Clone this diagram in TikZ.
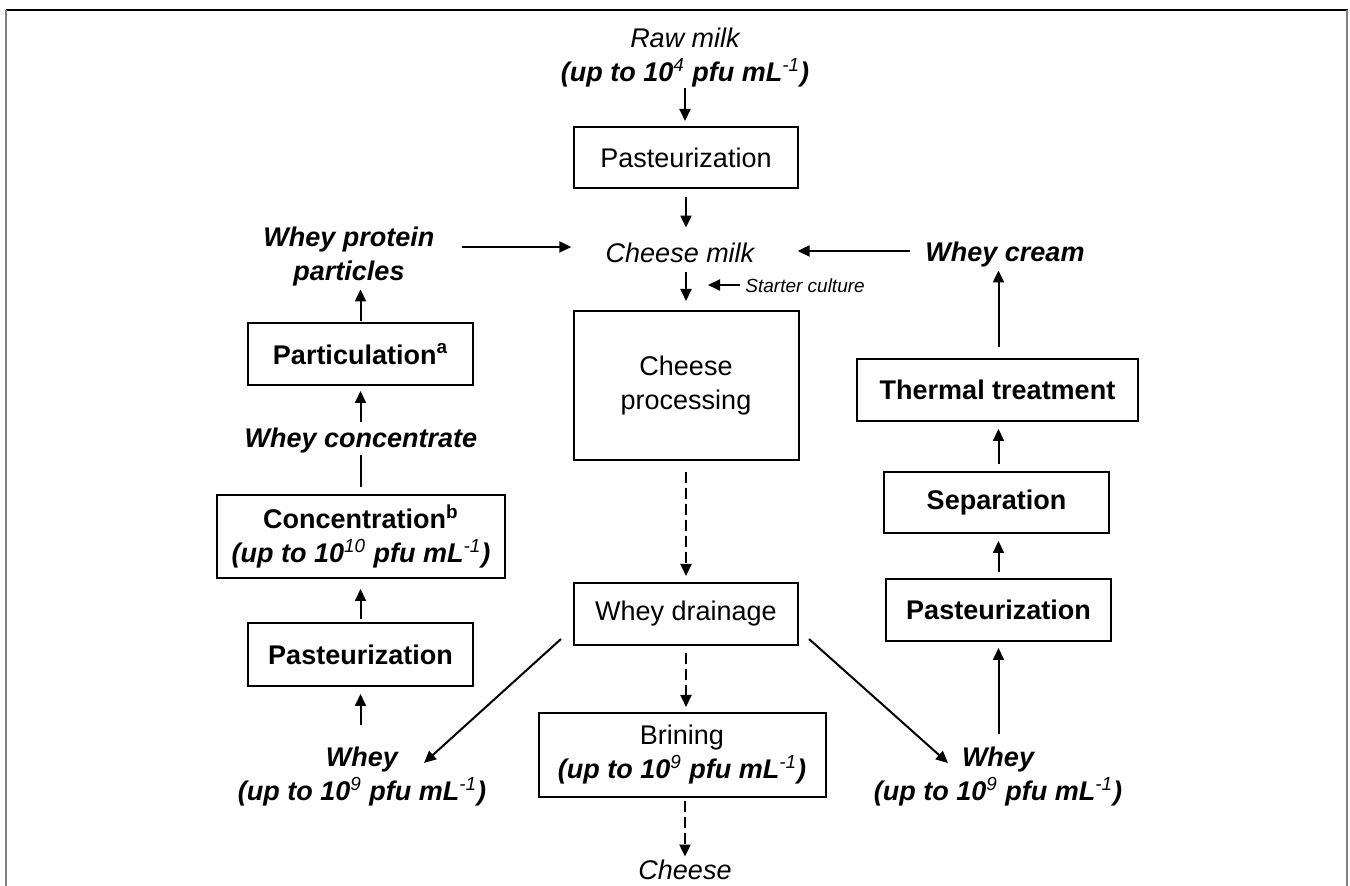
\documentclass[tikz,border=0pt]{standalone}
\usepackage{fontspec}
\setmainfont{Liberation Sans}
\usetikzlibrary{arrows.meta,calc}
\newcommand{\mainfs}{\fontsize{13.5}{17}\selectfont}
\newcommand{\smallfs}{\fontsize{9.5}{11}\selectfont}
\newcommand{\sps}[1]{\textsuperscript{\mdseries #1}}
\newcommand{\upto}[1]{\bfseries\itshape (up to 10\sps{#1} pfu mL\sps{-1})}
\begin{document}
\begin{tikzpicture}[x=0.5pt,y=-0.5pt,
  box/.style={draw, line width=1pt, inner sep=0pt, align=center, font=\mainfs},
  txt/.style={inner sep=0pt, align=center, font=\mainfs},
  onel/.style={txt, text height=10pt, text depth=3pt},
  arr/.style={line width=1pt, -{Triangle[length=6pt,width=5.5pt]}},
  darr/.style={arr, dash pattern=on 5.5pt off 2.5pt},
  plain/.style={line width=1pt}]
\useasboundingbox (0,0) rectangle (1350,886);
% frame
\draw[line width=1pt] (6,10) -- (1348,10);
\draw[line width=1pt, gray] (6,10) -- (6,886);
\draw[line width=1pt, gray] (1347,10) -- (1347,886);

% centre column
\node[txt] (raw) at (685,58) {\itshape Raw milk\\ \upto{4}};
\node[box, minimum width=112pt, minimum height=30.5pt] (P1) at (686,158) {Pasteurization};
\node[onel] (CM) at (680,256) {\itshape Cheese milk};
\node[inner sep=0pt, font=\smallfs, text height=7pt, text depth=2pt, anchor=west] (starter) at (745,288) {\itshape Starter culture};
\coordinate (stend) at (708,285);
\node[box, minimum width=112.5pt, minimum height=74.5pt] (CP) at (686,385.5) {Cheese\\processing};
\node[box, minimum width=112pt, minimum height=31pt] (WD) at (686,614) {Whey drainage};
\node[box, minimum width=143.5pt, minimum height=42pt] (BR) at (682,755) {Brining\\ \upto{9}};
\node[txt, text height=10pt, text depth=0pt] (cheese) at (685,870) {\itshape Cheese};

% left column
\node[txt, font=\mainfs\bfseries\itshape] (WPP) at (349,256.5) {Whey protein\\particles};
\node[box, minimum width=112.5pt, minimum height=31pt, font=\mainfs\bfseries] (PA) at (360.5,354) {Particulation\textsuperscript{a}};
\node[onel, font=\mainfs\bfseries\itshape] (WC) at (361,441) {Whey concentrate};
\node[box, minimum width=144pt, minimum height=41.5pt, font=\mainfs\bfseries] (CO) at (361,536.5) {Concentration\textsuperscript{b}\\ \upto{10}};
\node[box, minimum width=112.5pt, minimum height=31.5pt, font=\mainfs\bfseries] (LP) at (360.5,654.5) {Pasteurization};
\node[txt, font=\mainfs\bfseries\itshape] (wheyL) at (362,777) {Whey\\ \upto{9}};

% right column
\node[onel, font=\mainfs\bfseries\itshape] (WCr) at (1005,255) {Whey cream};
\node[box, minimum width=140.5pt, minimum height=31pt, font=\mainfs\bfseries] (TT) at (997.5,390) {Thermal treatment};
\node[box, minimum width=112.5pt, minimum height=30.5pt, font=\mainfs\bfseries] (SE) at (996.5,502.5) {Separation};
\node[box, minimum width=112.5pt, minimum height=31pt, font=\mainfs\bfseries] (RP) at (998.5,610) {Pasteurization};
\node[txt, font=\mainfs\bfseries\itshape] (wheyR) at (998,777) {Whey\\ \upto{9}};

% centre connectors
\draw[arr, shorten >=2.75pt] (raw.south) -- (raw.south |- P1.north);
\draw[arr, shorten <=3.75pt, shorten >=7.5pt] (P1.south) -- (P1.south |- CM.north);
\draw[arr, shorten <=1.5pt, shorten >=4.5pt] (CP.north |- CM.south) -- (CP.north);
\draw[arr, shorten <=2.5pt] (starter.west |- stend) -- (stend);
\draw[darr, shorten <=5.5pt, shorten >=3pt] (CP.south) -- (WD.north);
\draw[darr, shorten <=3.5pt, shorten >=2.5pt] (WD.south) -- (WD.south |- BR.north);
\draw[darr, shorten <=1.5pt, shorten >=1.5pt] (cheese.north |- BR.south) -- (cheese.north);
\draw[arr] ($(WD.south west)+(-12,-7)$) -- ($(wheyL.north)+(62,16)$);
\draw[arr] ($(WD.south east)+(10,-7)$) -- ($(wheyR.north)+(-50,16)$);

% left connectors
\draw[arr] ($(WPP.east)+(27,-9.5)$) -- ($(CM.west)+(-34,-9)$);
\draw[arr, shorten <=0.5pt, shorten >=1.5pt] (PA.north) -- (PA.north |- WPP.south);
\draw[arr, shorten <=3pt, shorten >=2.5pt] (PA.south |- WC.north) -- (PA.south);
\draw[plain, shorten <=3.5pt, shorten >=0.5pt] (CO.north) -- (CO.north |- WC.south);
\draw[arr, shorten <=1.5pt, shorten >=5pt] (LP.north) -- (LP.north |- CO.south);
\draw[arr, shorten <=11pt, shorten >=3.5pt] (LP.south |- wheyL.north) -- (LP.south);

% right connectors
\draw[arr, shorten <=6.3pt, shorten >=3pt] (RP.south |- wheyR.north) -- (RP.south);
\draw[arr, shorten <=3pt, shorten >=3.5pt] (RP.north) -- (RP.north |- SE.south);
\draw[arr, shorten <=3.5pt, shorten >=3.5pt] (SE.north -| RP.north) -- (RP.north |- TT.south);
\draw[arr, shorten <=5.5pt, shorten >=1pt] (TT.north -| RP.north) -- (RP.north |- WCr.south);
\draw[arr] ($(WCr.west)+(-15,-4)$) -- ($(CM.east)+(43,-5)$);
\end{tikzpicture}
\end{document}
